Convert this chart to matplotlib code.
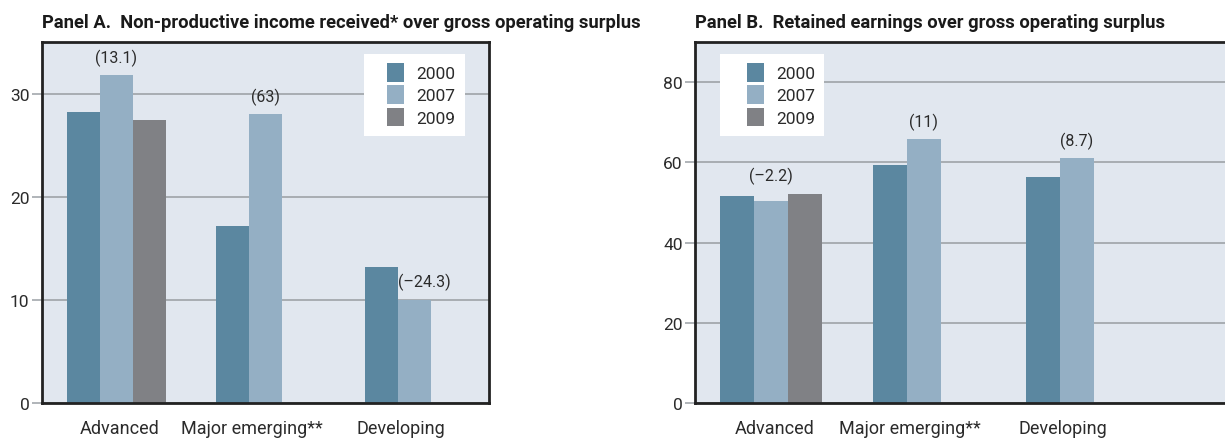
import matplotlib.pyplot as plt
import numpy as np
from matplotlib.patches import Patch, Rectangle

plt.rcParams['font.family'] = ['Roboto', 'DejaVu Sans']

categories = ['Advanced', 'Major emerging**', 'Developing']
years = ['2000', '2007', '2009']

# Panel A: non-productive income received over gross operating surplus
panel_a_2000 = [28.2, 17.2, 13.2]
panel_a_2007 = [31.8, 28.0, 10.0]
panel_a_2009 = [27.4, None, None]
panel_a_notes = ['(13.1)', '(63)', '(\u201324.3)']

# Panel B: retained earnings over gross operating surplus
panel_b_2000 = [51.5, 59.4, 56.4]
panel_b_2007 = [50.4, 65.7, 61.0]
panel_b_2009 = [52.1, None, None]
panel_b_notes = ['(\u20132.2)', '(11)', '(8.7)']

colors = ['#5b87a0', '#94afc4', '#808185']
bg = '#e1e7ef'
grid_col = '#a3a8ad'
W, H = 1225, 439

fig = plt.figure(figsize=(W / 100, H / 100), dpi=100)


def panel(rect, title, series, notes, ylim, yticks, xmax, box, note_nudge):
    ax = fig.add_axes(rect)
    ax.set_facecolor(bg)
    x = np.arange(len(categories))
    w = 0.222
    offsets = [-w, 0, w]
    for vals, off, col, yr in zip(series, offsets, colors, years):
        xs = [xi + off for xi, v in zip(x, vals) if v is not None]
        vs = [v for v in vals if v is not None]
        ax.bar(xs, vs, width=w, color=col, label=yr, zorder=2)

    # category labels at the centre of the bars present in each group
    tick_pos = []
    for i in x:
        present = [i + off for vals, off in zip(series, offsets) if vals[i] is not None]
        tick_pos.append(np.mean(present) + 0.02)
    ax.set_xticks(tick_pos)
    ax.set_xticklabels(categories, fontsize=13, color='#2b2b2b')
    ax.tick_params(axis='x', length=0, pad=11.5)

    ax.set_yticks(yticks)
    ax.tick_params(axis='y', length=7, width=1.2, color=grid_col, labelsize=12.5,
                   labelcolor='#2b2b2b', pad=2)
    ax.set_ylim(*ylim)
    ax.set_xlim(-0.5, xmax)
    ax.yaxis.grid(True, color=grid_col, linewidth=1.3, zorder=1)
    ax.set_axisbelow(True)
    for s in ax.spines.values():
        s.set_color('#222222')
        s.set_linewidth(2)

    for i, txt in enumerate(notes):
        dx, dy = note_nudge[i]
        ax.annotate(txt, (x[i], series[1][i]), xytext=(dx, 13 + dy),
                    textcoords='offset points', ha='center', va='center',
                    fontsize=11.5, color='#2b2b2b', zorder=4)

    # white legend box, then a frameless legend inside it
    bx, by, bw, bh = box
    ax.add_patch(Rectangle((bx, by), bw, bh, transform=ax.transAxes,
                           facecolor='white', edgecolor='none', zorder=5))
    handles = [Patch(facecolor=c, label=y) for c, y in zip(colors, years)]
    leg = ax.legend(handles=handles, loc='upper left',
                    bbox_to_anchor=(bx + 0.04, by + bh - 0.01),
                    fontsize=12.5, frameon=False,
                    handlelength=1.0, handleheight=1.3, handletextpad=0.7,
                    borderpad=0.3, labelspacing=0.2, borderaxespad=0)
    leg.set_zorder(6)
    for t in leg.get_texts():
        t.set_color('#2b2b2b')

    fig.text(rect[0], 1 - 23 / H, title, fontsize=13.2, fontweight='bold',
             ha='left', va='center', color='#1a1a1a')
    return ax


bottom = 1 - 404 / H
height = (404 - 43) / H

panel([42 / W, bottom, (489 - 42) / W, height],
      'Panel A.  Non-productive income received* over gross operating surplus',
      [panel_a_2000, panel_a_2007, panel_a_2009], panel_a_notes,
      (0, 35), [0, 10, 20, 30], 2.5,
      (0.720, 0.740, 0.226, 0.227),
      [(0, 0), (0, 0), (7, 0)])

panel([695 / W, bottom, (1240 - 695) / W, height],
      'Panel B.  Retained earnings over gross operating surplus',
      [panel_b_2000, panel_b_2007, panel_b_2009], panel_b_notes,
      (0, 90), [0, 20, 40, 60, 80], 3.07,
      (0.046, 0.740, 0.191, 0.227),
      [(0, 5), (0, 0), (0, 0)])

fig.savefig('out.png', dpi=100)
